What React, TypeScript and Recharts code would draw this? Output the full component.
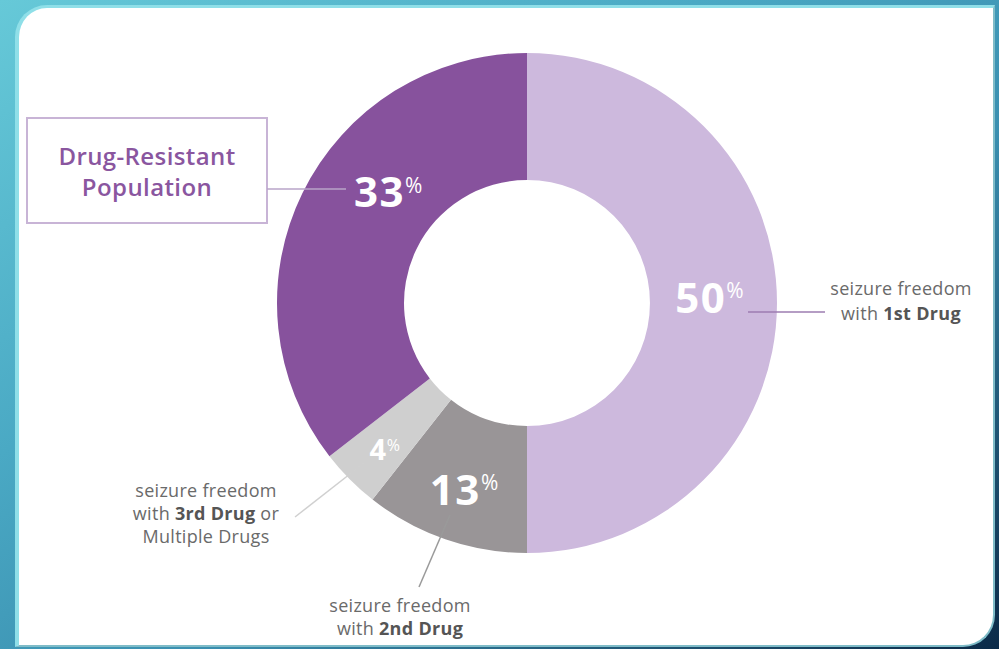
import React from "react";
import { PieChart, Pie, Cell } from "recharts";

// Slice categories (clockwise from 12 o'clock)
const categories = ["1st Drug", "2nd Drug", "3rd Drug or Multiple Drugs", "Drug-Resistant"];
// Share of the ring each slice occupies
const sliceShares = [50, 10.6, 3.9, 35.5];
// Percent figures printed on the slices
const printedPercents = ["50", "13", "4", "33"];

const sliceColors = ["#cdb9dd", "#999597", "#cfcfcf", "#87529d"];

const data = categories.map((name, i) => ({ name, value: sliceShares[i], printed: printedPercents[i] }));

// label placement tweaks (angle offset in degrees, radius offset in px, font sizes)
const labelStyle = [
  { da: 1.6, dr: -4, big: 42, small: 21, ls: 1.5 },
  { da: 0.5, dr: 11, big: 42, small: 21, ls: 1.5 },
  { da: 1.1, dr: 18, big: 29, small: 16, ls: 0.5 },
  { da: -12.4, dr: -9, big: 42, small: 21, ls: 1.5 },
];

const RADIAN = Math.PI / 180;
const FONT = "'Open Sans', 'Noto Sans', sans-serif";

const renderLabel = (props: any) => {
  const { cx, cy, midAngle, innerRadius, outerRadius, index } = props;
  const s = labelStyle[index];
  const r = (innerRadius + outerRadius) / 2 + s.dr;
  const a = (midAngle + s.da) * RADIAN;
  const x = cx + r * Math.cos(-a);
  const y = cy + r * Math.sin(-a);
  const cap = s.big * 0.714;
  return (
    <text
      x={x}
      y={y + cap / 2}
      textAnchor="middle"
      fill="#ffffff"
      fontFamily={FONT}
      fontWeight={700}
    >
      <tspan fontSize={s.big} letterSpacing={s.ls}>{data[index].printed}</tspan>
      <tspan fontSize={s.small} fontWeight={400} dy={-(cap - s.small * 0.714)}>%</tspan>
    </text>
  );
};

const textGray = "#6a6a6a";
const boldGray = "#555555";
const bodySize = 18;
const bodySpacing = 0.3;

export default function App() {
  return (
    <div
      style={{
        position: "absolute",
        left: 0,
        top: 0,
        width: 999,
        height: 649,
        overflow: "hidden",
        background: "linear-gradient(to bottom right, #66c9d8 0%, #4aa9c4 35%, #3a8fb0 60%, #0b2a48 100%)",
      }}
    >
      <div
        style={{
          position: "absolute",
          left: 15,
          top: 5,
          width: 980,
          height: 642,
          boxSizing: "border-box",
          background: "#ffffff",
          borderTop: "3px solid #8fdfe8",
          borderLeft: "4px solid #8fdfe8",
          borderRight: "2px solid #7fbcc8",
          borderBottom: "2px solid #7fbcc8",
          borderRadius: "32px 0 32px 0",
        }}
      />
      <div style={{ position: "absolute", left: 0, top: 0 }}>
        <PieChart width={999} height={649} margin={{ top: 0, right: 0, bottom: 0, left: 0 }}>
          <Pie
            data={data}
            dataKey="value"
            nameKey="name"
            cx={527}
            cy={303}
            innerRadius={123}
            outerRadius={250}
            startAngle={90}
            endAngle={-270}
            stroke="none"
            labelLine={false}
            label={renderLabel}
            isAnimationActive={false}
          >
            {data.map((d, i) => (
              <Cell key={d.name} fill={sliceColors[i]} />
            ))}
          </Pie>
        </PieChart>
      </div>
      <svg
        width={999}
        height={649}
        style={{ position: "absolute", left: 0, top: 0, pointerEvents: "none" }}
        fontFamily={FONT}
      >
        {/* Drug-Resistant callout */}
        <rect x={27} y={118} width={240} height={105} fill="none" stroke="#c8b4d6" strokeWidth={2} />
        <line x1={267} y1={189} x2={346} y2={189} stroke="#b9a5c8" strokeWidth={1.5} />
        <text x={147} y={165} textAnchor="middle" fontSize={24} fontWeight={600} letterSpacing={0.4} fill="#8a569f">Drug-Resistant</text>
        <text x={147} y={196} textAnchor="middle" fontSize={24} fontWeight={600} letterSpacing={0.4} fill="#8a569f">Population</text>

        <g fontSize={bodySize} letterSpacing={bodySpacing} fill={textGray}>
          {/* 1st drug callout */}
          <line x1={748} y1={312} x2={825} y2={312} stroke="#9d7cb0" strokeWidth={1.5} />
          <text x={901} y={295} textAnchor="middle">seizure freedom</text>
          <text x={901} y={320} textAnchor="middle">
            with <tspan fontWeight={700} fill={boldGray}>1st Drug</tspan>
          </text>

          {/* 3rd drug callout */}
          <line x1={295} y1={517} x2={364} y2={463} stroke="#d0d0d0" strokeWidth={1.5} />
          <text x={206} y={497} textAnchor="middle">seizure freedom</text>
          <text x={206} y={520} textAnchor="middle">
            with <tspan fontWeight={700} fill={boldGray}>3rd Drug</tspan> or
          </text>
          <text x={206} y={543} textAnchor="middle">Multiple Drugs</text>

          {/* 2nd drug callout */}
          <line x1={450} y1={515} x2={419} y2={587} stroke="#9a9a9a" strokeWidth={1.5} />
          <text x={400} y={612} textAnchor="middle">seizure freedom</text>
          <text x={400} y={635} textAnchor="middle">
            with <tspan fontWeight={700} fill={boldGray}>2nd Drug</tspan>
          </text>
        </g>
      </svg>
    </div>
  );
}
